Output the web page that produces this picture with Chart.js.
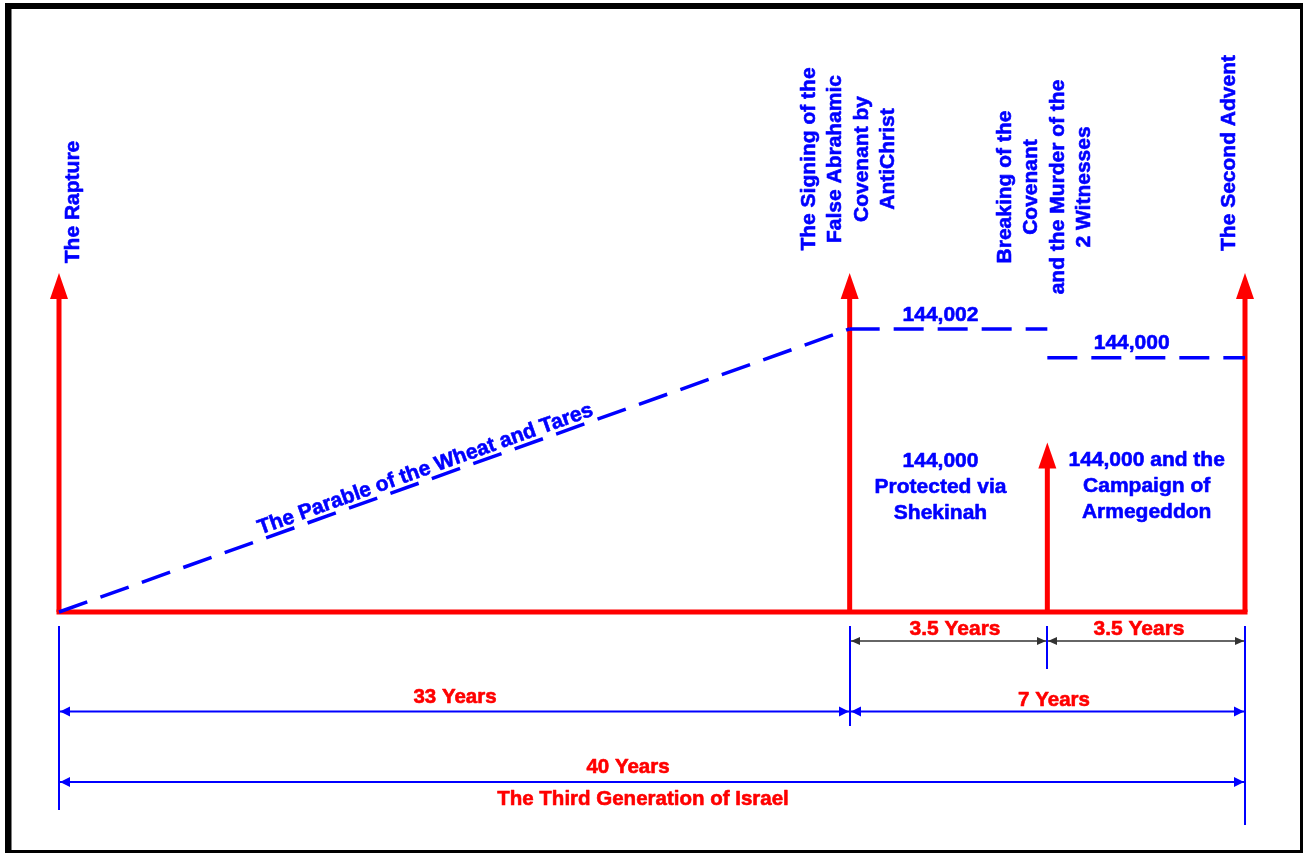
<!DOCTYPE html>
<html lang="en">
<head>
<meta charset="UTF-8">
<title>The Third Generation of Israel</title>
<script src="https://cdn.jsdelivr.net/npm/chart.js"></script>
<style>
  html, body { margin: 0; padding: 0; background: #fff; }
  #wrap { width: 1304px; height: 853px; }
</style>
</head>
<body>
<div id="wrap"><canvas id="chart" width="1304" height="853"></canvas></div>
<script>
    // events on the timeline (x in chart units: 33 years = 4 units, 7 years = 2 units)
    const eventNames = [
        'The Rapture',
        'The Signing of the\nFalse Abrahamic\nCovenant by\nAntiChrist',
        'Breaking of the\nCovenant\nand the Murder of the\n2 Witnesses',
        'The Second Advent'
    ];
    const eventPos = [0, 4, 5, 6];
    const arrowTop = [100, 100, 50, 100];

    // dashed lines
    const parableX = [0, 4];
    const parableY = [0, 83.5];
    const remnantAX = [4, 5];
    const remnantAY = [83.5, 83.5];
    const remnantBX = [5, 6];
    const remnantBY = [75, 75];
    const parableLabel = 'The Parable of the Wheat and Tares';
    const remnantLabels = ['144,002', '144,000'];

    // notes between the arrows
    const periodNotes = [
        ['144,000', 'Protected via', 'Shekinah'],
        ['144,000 and the', 'Campaign of', 'Armegeddon']
    ];

    // dimension spans under the timeline
    const spanFrom = [4, 5, 0, 4, 0];
    const spanTo = [5, 6, 4, 6, 6];
    const spanLabels = ['3.5 Years', '3.5 Years', '33 Years', '7 Years', '40 Years'];
    const spanRow = [0, 0, 1, 1, 2];
    const footerLabel = 'The Third Generation of Israel';

    const BLUE = '#0000ff';
    const RED = '#ff0000';
    const font = px => 'bold ' + px + 'px "Liberation Sans", Arial, sans-serif';

    // layout (pixels)
    const eventLabelBox = [
        { dx: 14, cy: 202 },
        { dx: -1, cy: 159 },
        { dx: -2.5, cy: 187 },
        { dx: -16, cy: 153 }
    ];
    const rowY = [641, 711.5, 782];
    const spanLabelBase = [635, 635, 703, 706, 773];
    const spanLabelDx = [6.5, -7, 0.5, 6.5, -24];
    const extTop = 626;
    const extBottom = [810, 726, 669, 825];

    function pts(xs, ys) {
        return xs.map((x, i) => ({ x: x, y: ys[i] }));
    }

    // filled text with a thin outline so it looks as heavy as the original
    function heavyText(ctx, s, x, y) {
        ctx.strokeStyle = ctx.fillStyle;
        ctx.lineWidth = 0.6;
        ctx.lineJoin = 'round';
        ctx.fillText(s, x, y);
        ctx.strokeText(s, x, y);
    }

    function arrowHead(ctx, x, y, dx, dy, len, half) {
        ctx.beginPath();
        ctx.moveTo(x, y);
        ctx.lineTo(x - dx * len - dy * half, y - dy * len + dx * half);
        ctx.lineTo(x - dx * len + dy * half, y - dy * len - dx * half);
        ctx.closePath();
        ctx.fill();
    }

    const timelinePlugin = {
        id: 'timeline',
        beforeDraw(chart) {
            const ctx = chart.ctx;
            ctx.save();
            ctx.fillStyle = '#fff';
            ctx.fillRect(0, 0, chart.width, chart.height);
            ctx.fillStyle = '#000';
            ctx.fillRect(5, 3, 1298, 6);
            ctx.fillRect(5, 3, 6.5, 850);
            ctx.fillRect(1300, 3, 3, 850);
            ctx.fillRect(5, 850, 1298, 3);
            ctx.restore();
        },
        beforeDatasetsDraw(chart) {
            // red event arrows
            const ctx = chart.ctx;
            const xs = chart.scales.x, ys = chart.scales.y;
            const y0 = ys.getPixelForValue(0);
            ctx.save();
            ctx.fillStyle = RED;
            eventPos.forEach((p, i) => {
                const x = xs.getPixelForValue(p);
                const top = ys.getPixelForValue(arrowTop[i]);
                ctx.fillRect(x - 2.5, top + 25, 5, y0 - top - 25);
                arrowHead(ctx, x, top, 0, -1, 26, 9);
            });
            ctx.restore();
        },
        afterDatasetsDraw(chart) {
            const ctx = chart.ctx;
            const xs = chart.scales.x, ys = chart.scales.y;
            ctx.save();

            // vertical event labels
            ctx.fillStyle = BLUE;
            ctx.font = font(21);
            ctx.textAlign = 'center';
            ctx.textBaseline = 'middle';
            eventNames.forEach((name, i) => {
                const lines = name.split('\n');
                const cx = xs.getPixelForValue(eventPos[i]) + eventLabelBox[i].dx;
                ctx.save();
                ctx.translate(cx, eventLabelBox[i].cy);
                ctx.rotate(-Math.PI / 2);
                lines.forEach((ln, j) => {
                    heavyText(ctx, ln, 0, (j - (lines.length - 1) / 2) * 26.5);
                });
                ctx.restore();
            });

            // parable label along the diagonal
            const px0 = xs.getPixelForValue(parableX[0]), py0 = ys.getPixelForValue(parableY[0]);
            const px1 = xs.getPixelForValue(parableX[1]), py1 = ys.getPixelForValue(parableY[1]);
            const t = 0.468;
            ctx.save();
            ctx.translate(px0 + (px1 - px0) * t, py0 + (py1 - py0) * t);
            ctx.rotate(Math.atan2(py1 - py0, px1 - px0));
            ctx.textBaseline = 'alphabetic';
            heavyText(ctx, parableLabel, 0, -5);
            ctx.restore();

            // remnant labels above the dashed lines
            ctx.textBaseline = 'alphabetic';
            const midA = (xs.getPixelForValue(remnantAX[0]) + xs.getPixelForValue(remnantAX[1])) / 2;
            const midB = (xs.getPixelForValue(remnantBX[0]) + xs.getPixelForValue(remnantBX[1])) / 2;
            heavyText(ctx, remnantLabels[0], midA - 8, ys.getPixelForValue(remnantAY[0]) - 8);
            heavyText(ctx, remnantLabels[1], midB - 14.5, ys.getPixelForValue(remnantBY[0]) - 9);

            // period notes
            const noteDx = [-8, 0.5];
            const noteBase = [467, 466];
            periodNotes.forEach((lines, i) => {
                const mid = (xs.getPixelForValue(eventPos[i + 1]) + xs.getPixelForValue(eventPos[i + 2])) / 2;
                lines.forEach((ln, j) => {
                    heavyText(ctx, ln, mid + noteDx[i], noteBase[i] + j * 26.2);
                });
            });

            // extension lines
            ctx.strokeStyle = BLUE;
            ctx.lineWidth = 2;
            eventPos.forEach((p, i) => {
                const x = Math.round(xs.getPixelForValue(p));
                ctx.beginPath();
                ctx.moveTo(x, extTop);
                ctx.lineTo(x, extBottom[i]);
                ctx.stroke();
            });

            // dimension arrows
            spanFrom.forEach((f, i) => {
                const xa = Math.round(xs.getPixelForValue(f));
                const xb = Math.round(xs.getPixelForValue(spanTo[i]));
                const y = rowY[spanRow[i]];
                const dark = spanRow[i] === 0;
                const col = dark ? '#333333' : BLUE;
                ctx.strokeStyle = col;
                ctx.fillStyle = col;
                ctx.lineWidth = dark ? 1.6 : 2;
                ctx.beginPath();
                ctx.moveTo(xa + 1, y);
                ctx.lineTo(xb - 1, y);
                ctx.stroke();
                const len = dark ? 9 : 10, half = dark ? 4 : 5;
                arrowHead(ctx, xa + 1, y, -1, 0, len, half);
                arrowHead(ctx, xb - 1, y, 1, 0, len, half);

                ctx.fillStyle = RED;
                ctx.font = font(dark ? 21 : 20.5);
                ctx.textAlign = 'center';
                heavyText(ctx, spanLabels[i], (xa + xb) / 2 + spanLabelDx[i], spanLabelBase[i]);
            });

            ctx.fillStyle = RED;
            ctx.font = font(20.5);
            const full = (xs.getPixelForValue(eventPos[0]) + xs.getPixelForValue(eventPos[3])) / 2;
            heavyText(ctx, footerLabel, full - 9, 805);

            ctx.restore();
        }
    };

    const dashed = {
        borderColor: BLUE,
        borderWidth: 3.5,
        borderDash: [30, 14],
        borderCapStyle: 'butt',
        pointRadius: 0,
        showLine: true,
        fill: false,
        clip: false
    };

    const ctx = document.getElementById('chart').getContext('2d');
    const myChart = new Chart(ctx, {
        type: 'scatter',
        data: {
            datasets: [
                Object.assign({ label: 'parable', data: pts(parableX, parableY) }, dashed),
                Object.assign({ label: remnantLabels[0], data: pts(remnantAX, remnantAY) }, dashed),
                Object.assign({ label: remnantLabels[1], data: pts(remnantBX, remnantBY) }, dashed),
                {
                    label: 'timeline',
                    data: pts([eventPos[0], eventPos[3]], [0, 0]),
                    borderColor: RED,
                    borderWidth: 5,
                    borderCapStyle: 'square',
                    pointRadius: 0,
                    showLine: true,
                    clip: false
                }
            ]
        },
        options: {
            responsive: false,
            animation: false,
            events: [],
            layout: { padding: { left: 59, right: 59, top: 273, bottom: 241 } },
            plugins: { legend: { display: false }, tooltip: { enabled: false } },
            scales: {
                x: { type: 'linear', min: 0, max: 6, display: false },
                y: { min: 0, max: 100, display: false }
            }
        },
        plugins: [timelinePlugin]
    });
</script>
</body>
</html>
